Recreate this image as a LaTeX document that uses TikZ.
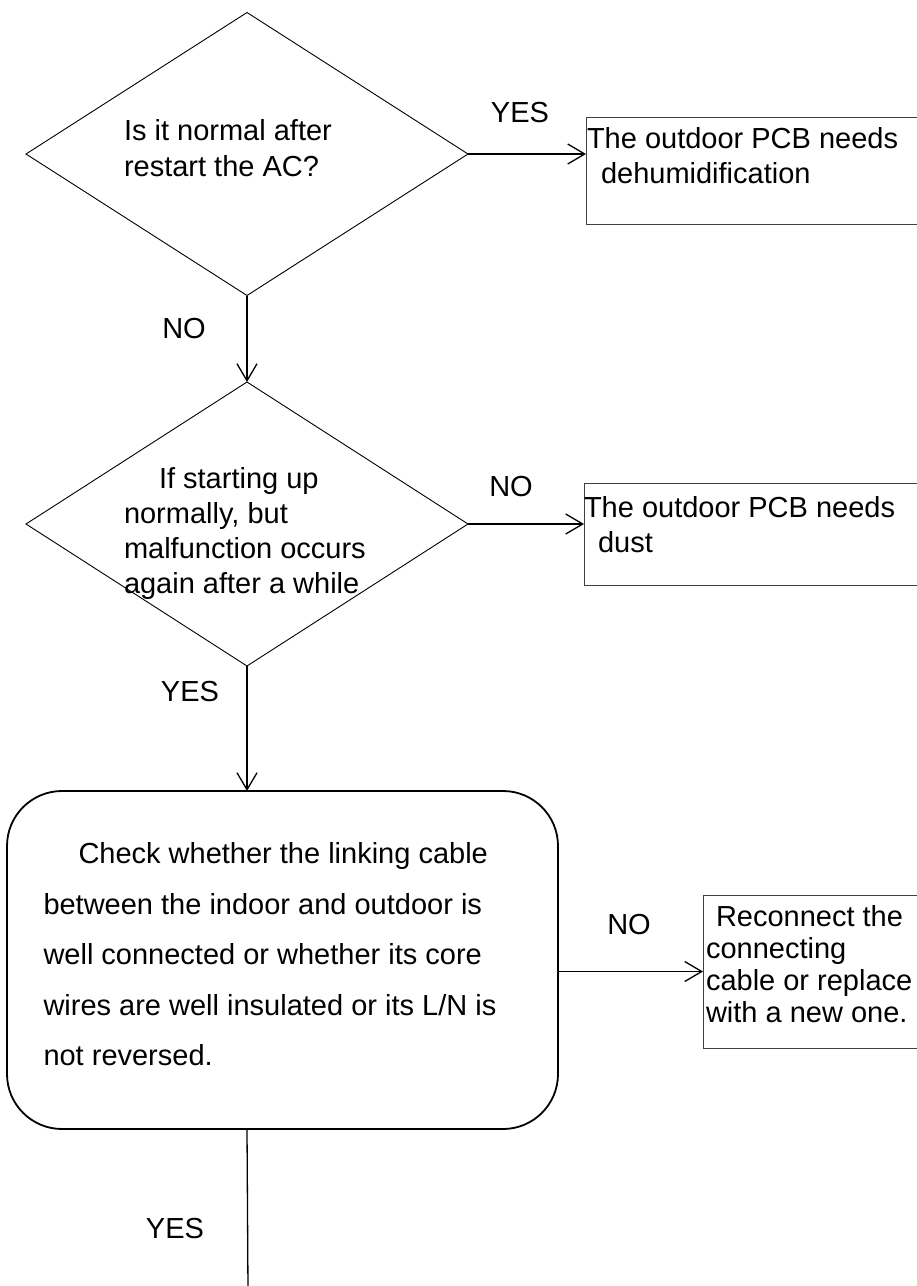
\documentclass[tikz,border=0pt]{standalone}
\usepackage{fontspec}
\setmainfont{Liberation Sans}
\usetikzlibrary{shapes.geometric,arrows.meta}
\begin{document}
\begin{tikzpicture}[x=1pt,y=-1pt,
  every node/.style={font=\fontsize{29}{35}\selectfont, inner sep=0pt, outer sep=0pt},
  dia/.style={draw, diamond, line width=0.9pt, minimum width=442pt, minimum height=283pt},
  box/.style={draw=black!75, line width=1pt, rectangle, anchor=north west},
  rbox/.style={draw, line width=1.8pt, rounded corners=55pt, rectangle, anchor=north west, minimum width=551pt, minimum height=338pt},
  txt/.style={anchor=north west, align=left},
  lbl/.style={anchor=center},
  arr/.style={-{Straight Barb[length=17pt,width=20pt]}, line width=1.3pt},
  ln/.style={line width=1.3pt}]
\path[use as bounding box] (0,0) rectangle (917,1286);
\fill[white] (0,0) rectangle (917,1286);
\clip (0,0) rectangle (917,1286);

% shapes
\node[dia] (d1) at (247,154) {};
\node[dia, minimum height=284pt] (d2) at (247,524) {};
\node[box, minimum width=360pt, minimum height=107pt] (b1) at (586,117) {};
\node[box, minimum width=360pt, minimum height=102pt] (b2) at (584,483) {};
\node[box, minimum width=240pt, minimum height=153pt] (b3) at (703,895) {};
\node[rbox] (r) at (7,791) {};

% texts
\node[txt, font=\fontsize{29}{36}\selectfont] (t1) at (124,119.5) {Is it normal after\\restart the AC?};
\node[txt] (t2) at (124,467.5) {\hspace*{35pt}If starting up\\normally, but\\malfunction occurs\\again after a while};
\node[txt] (t3) at (587,127.5) {The outdoor PCB needs\\\hspace*{14pt}dehumidification};
\node[txt] (t4) at (584,496.5) {The outdoor PCB needs\\\hspace*{14pt}dust};
\node[txt, font=\fontsize{29}{32}\selectfont] (t5) at (706,905.5) {\hspace*{10pt}Reconnect the\\connecting\\cable or replace\\with a new one.};
\node[txt, font=\fontsize{29}{50.5}\selectfont] (t6) at (43.5,842.5) {\hspace*{35pt}Check whether the linking cable\\between the indoor and outdoor is\\well connected or whether its core\\wires are well insulated or its L/N is\\not reversed.};

% labels
\node[lbl] (l1) at (520,113) {YES};
\node[lbl] (l2) at (184,329) {NO};
\node[lbl] (l3) at (511,487) {NO};
\node[lbl] (l4) at (190,692) {YES};
\node[lbl] (l5) at (629,925) {NO};
\node[lbl] (l6) at (175,1229) {YES};

% connectors
\draw[arr] (d1.east) -- (d1.east -| b1.west);
\draw[arr] (d1.south) -- (d2.north);
\draw[arr] (d2.east) -- (d2.east -| b2.west);
\draw[arr] (d2.south) -- (d2.south |- r.north);
\draw[arr] (b3.west -| r.east) -- (b3.west);
\coordinate (end) at (248,1290);
\draw[ln] (d2.south |- r.south) -- (end);
\end{tikzpicture}
\end{document}
